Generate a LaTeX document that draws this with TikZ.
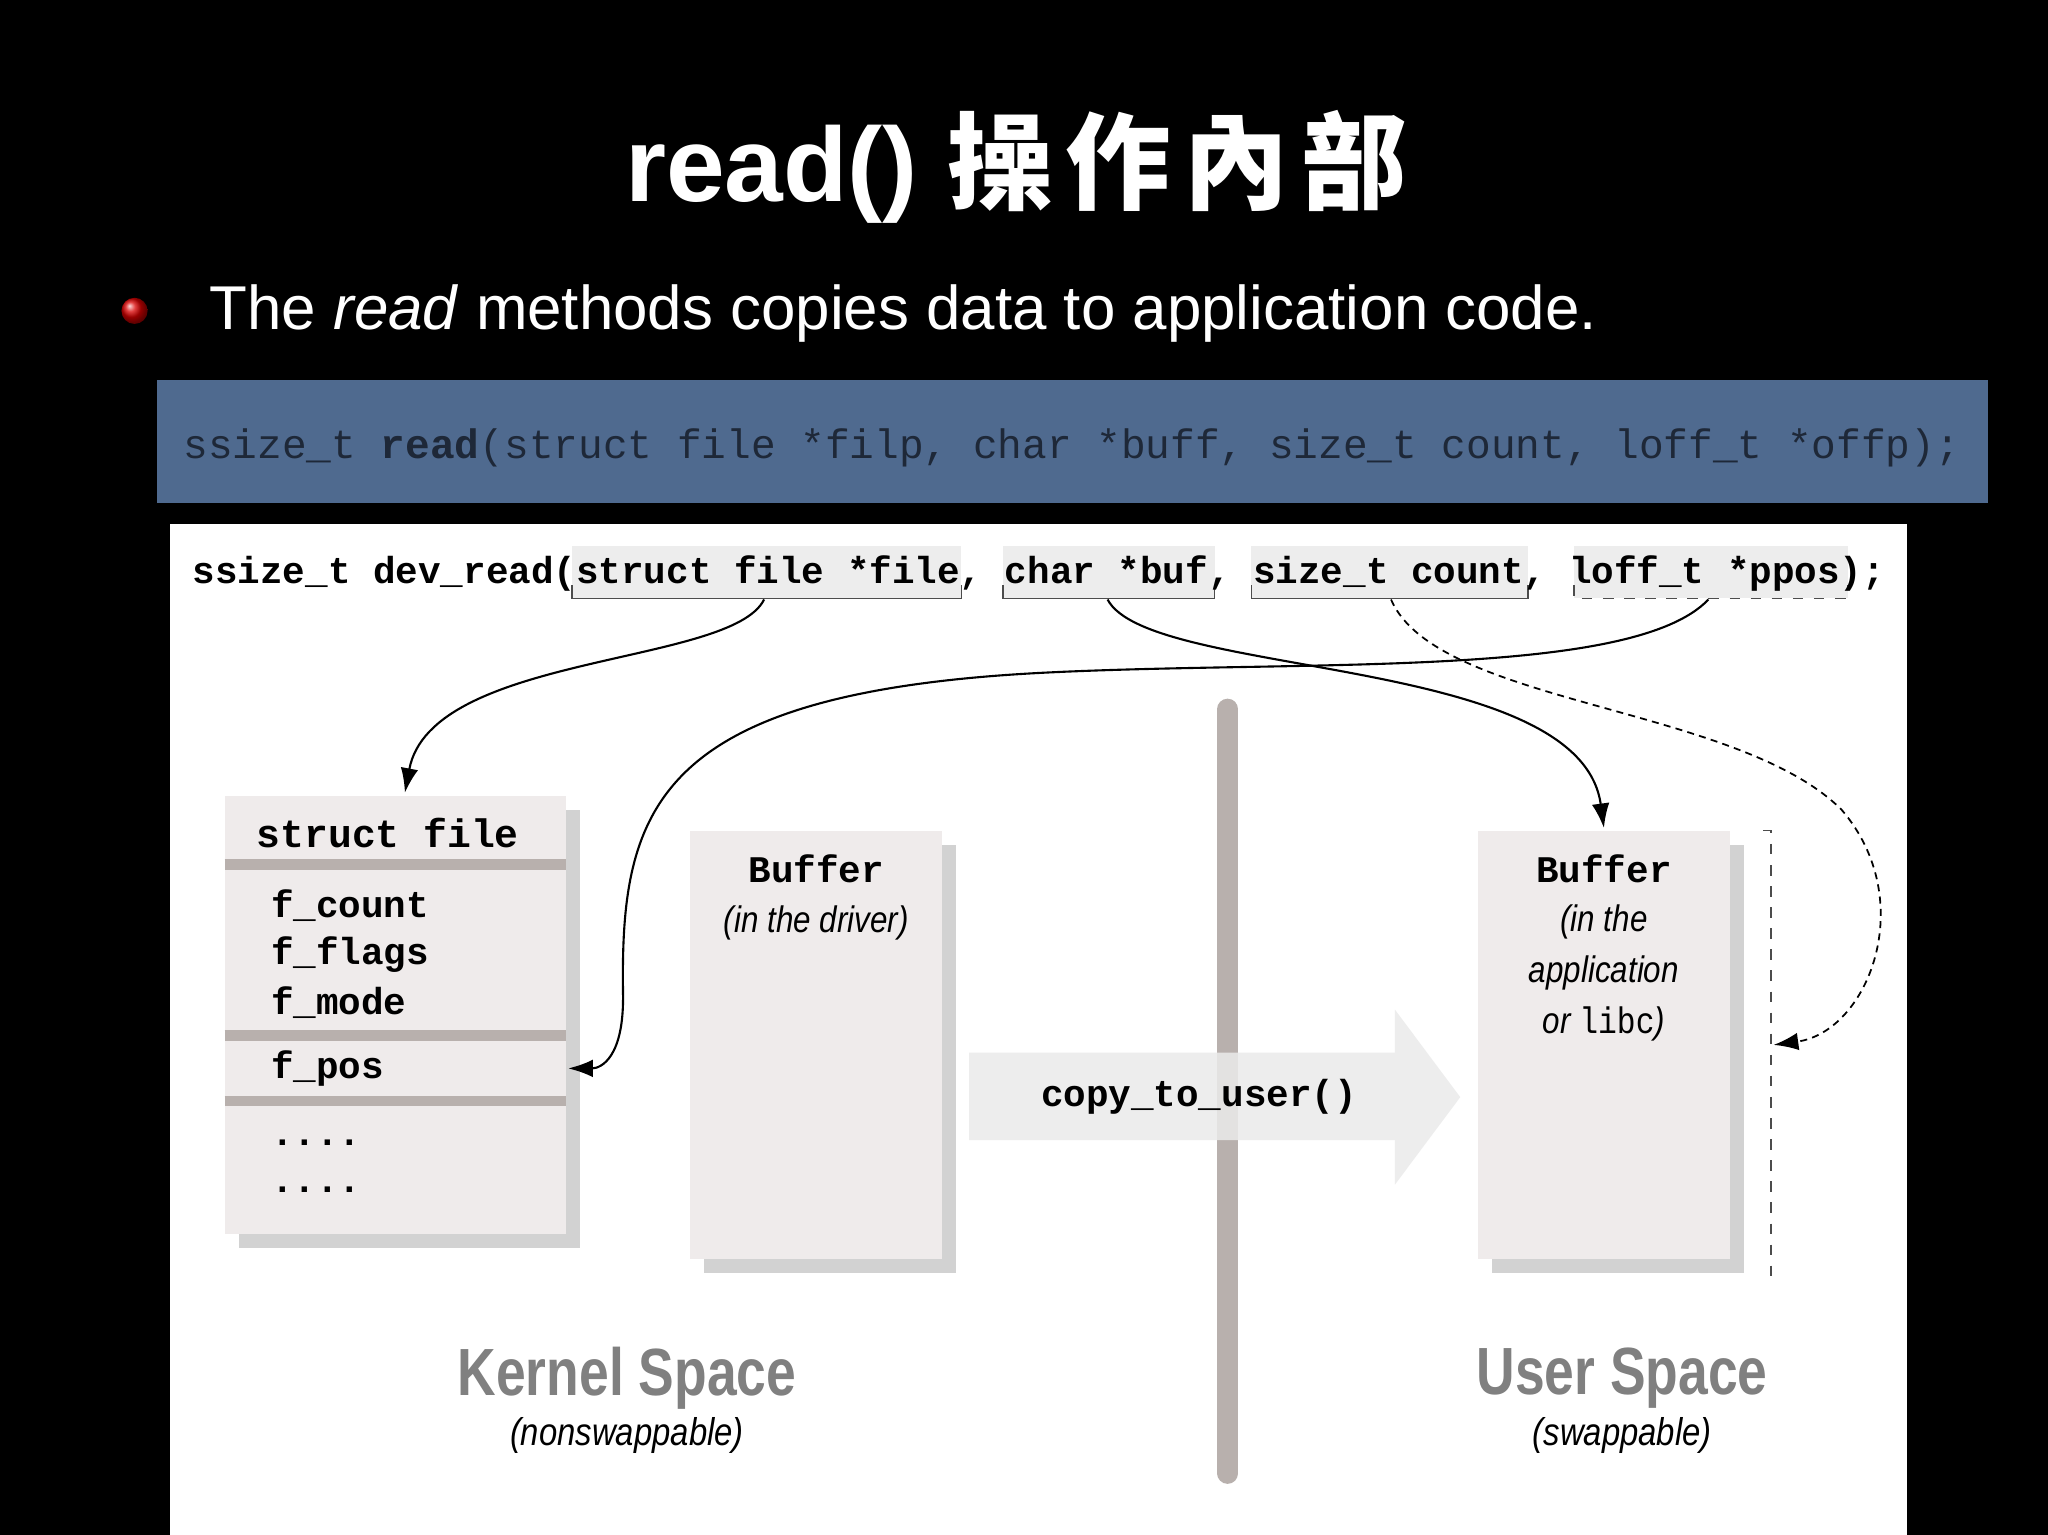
\documentclass[tikz,border=0pt]{standalone}
\usepackage{fontspec}
\setmainfont{Liberation Sans}
\setmonofont{Liberation Mono}
\newfontfamily\cjk{Noto Sans CJK TC}[LetterSpace=12]
\usetikzlibrary{arrows.meta,shadows}
\definecolor{barblue}{HTML}{4F6A8F}
\definecolor{boxfill}{HTML}{EFEBEB}
\definecolor{sep}{HTML}{B8B0AD}
\definecolor{codetext}{HTML}{1E2838}
\tikzset{
 mono/.style={font=\ttfamily\bfseries\fontsize{10.7}{12}\selectfont,inner sep=0pt},
 boxsh/.style={fill=boxfill,draw=none,drop shadow={shadow xshift=4pt,shadow yshift=-4pt,fill=black!35,opacity=0.5}},
 parbox/.style={fill=black!7,draw=none},
 cur/.style={-{Latex[length=7pt,width=5pt]},black,line width=0.6pt},
 lbl/.style={font=\itshape\fontsize{10.5}{12.5}\selectfont,xscale=0.85,align=center,inner sep=0pt},
 space/.style={font=\bfseries\fontsize{19}{21}\selectfont,text=black!50,xscale=0.8,inner sep=0pt},
 sub/.style={font=\itshape\fontsize{11}{13}\selectfont,xscale=0.85,inner sep=0pt},
}
\begin{document}
\begin{tikzpicture}[x=0.01306cm,y=-0.01306cm]
\fill[black] (0,0) rectangle (1568,1175);
\useasboundingbox (0,0) rectangle (1568,1175);
\node[text=white,font=\bfseries\fontsize{30}{36}\selectfont] (title) at (778,128) {read() {\cjk\bfseries 操作內部}};
\shade[ball color=red!85!black] (103,238) circle (10);
\node[coordinate] (bul) at (103,238) {};
\node[text=white,anchor=west,font=\fontsize{17.6}{22}\selectfont,inner sep=0pt] (btext) at (160,240) {The \emph{read} methods copies data to application code.};
\fill[barblue] (120,291) rectangle (1522,385);
\node[anchor=west,text=codetext,font=\ttfamily\fontsize{11.7}{13}\selectfont,inner sep=0pt] (proto) at (140,343) {ssize\_t \textbf{read}(struct file *filp, char *buff, size\_t count, loff\_t *offp);};
\fill[white] (130,401) rectangle (1460,1175);
% param boxes
\fill[parbox] (438,418) rectangle (736,458); \draw[black!70] (438,448)--(438,458)--(736,458)--(736,448);
\fill[parbox] (768,418) rectangle (930,458); \draw[black!70] (768,448)--(768,458)--(930,458)--(930,448);
\fill[parbox] (958,418) rectangle (1170,458); \draw[black!70] (958,448)--(958,458)--(1170,458)--(1170,448);
\fill[parbox] (1205,418) rectangle (1415,458); \draw[black!70,dashed] (1205,448)--(1205,458)--(1415,458)--(1415,448);
\node[mono,anchor=west] (dev) at (147,439) {ssize\_t dev\_read(struct file *file, char *buf, size\_t count, loff\_t *ppos);};
\coordinate (pfile) at (585,459);
\coordinate (pbuf) at (848,459);
\coordinate (pcount) at (1065,459);
\coordinate (pppos) at (1308,459);
% struct file box
\node[boxsh,minimum width=261*0.01306cm,minimum height=335*0.01306cm,anchor=north west,inner sep=0] (sf) at (172,609) {};
\draw[sep,line width=3pt] (172,662)--(433,662) (172,793)--(433,793) (172,843)--(433,843);
\node[mono,anchor=west,font=\ttfamily\bfseries\fontsize{11.3}{13}\selectfont] (sft) at (196,638) {struct file};
\node[mono,anchor=west] (fc) at (207,693) {f\_count};
\node[mono,anchor=west] (ff) at (207,731) {f\_flags};
\node[mono,anchor=west] (fm) at (207,768) {f\_mode};
\node[mono,anchor=west] (fp) at (207,818) {f\_pos};
\node[mono,anchor=west] (d1) at (207,875) {....};
\node[mono,anchor=west] (d2) at (207,911) {....};
\coordinate (fpr) at (435,818);
\coordinate (sftop) at (310,607);
% driver buffer
\node[boxsh,minimum width=193*0.01306cm,minimum height=327*0.01306cm,anchor=north west,inner sep=0] (kb) at (528,636) {};
\node[mono] (kbt) at (625,665) {Buffer};
\node[lbl] (kbl) at (625,707) {(in the driver)};
% divider
\draw[sep,line width=6pt,line cap=round] (940,543)--(940,1128);
% copy arrow
\fill[black!8,opacity=0.85] (742,806)--(1068,806)--(1068,773)--(1118,840)--(1068,907)--(1068,873)--(742,873)--cycle;
\node[mono] (ctu) at (918,840) {copy\_to\_user()};
% user buffer
\node[boxsh,minimum width=193*0.01306cm,minimum height=327*0.01306cm,anchor=north west,inner sep=0] (ub) at (1131,636) {};
\node[mono] (ubt) at (1228,665) {Buffer};
\node[lbl] (ubl) at (1228,745) {(in the\\[2pt]application\\[2pt]or {\upshape\ttfamily libc})};
\coordinate (ubtop) at (1228,634);
\draw[black!70,dashed] (1350,636)--(1356,636)--(1356,978)--(1350,978);
\coordinate (ubr) at (1358,800);
% labels
\node[space] (ks) at (480,1055) {Kernel Space};
\node[sub] (ksl) at (480,1099) {(nonswappable)};
\node[space] (us) at (1242,1055) {User Space};
\node[sub] (usl) at (1242,1099) {(swappable)};
% curves
\draw[cur] (pfile) .. controls (560,510) and (330,500) .. (sftop);
\draw[cur] (pppos) .. controls (1250,520) and (1000,505) .. (800,515) .. controls (500,530) and (475,620) .. (477,760) .. controls (478,810) and (460,818) .. (fpr);
\draw[cur] (pbuf) .. controls (880,520) and (1210,500) .. (ubtop);
\draw[cur,dashed,line width=0.5pt,dash pattern=on 2pt off 1.5pt] (pcount) .. controls (1100,540) and (1330,540) .. (1410,620) .. controls (1470,690) and (1430,790) .. (ubr);
\end{tikzpicture}
\end{document}
